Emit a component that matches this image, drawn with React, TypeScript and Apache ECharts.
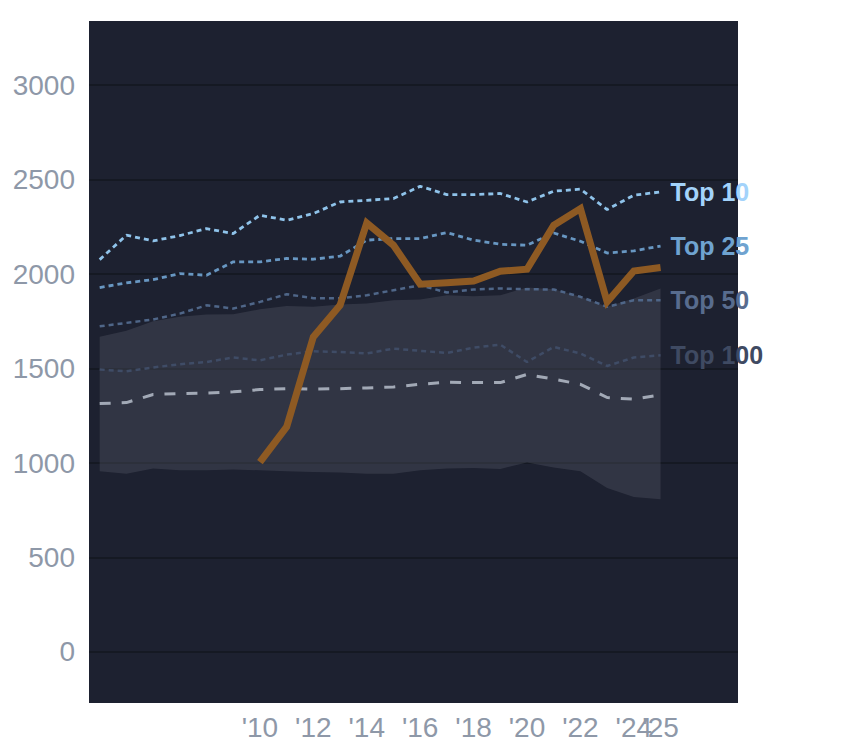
import React, { useEffect, useRef } from "react";
import * as echarts from "echarts";

const years = [2004, 2005, 2006, 2007, 2008, 2009, 2010, 2011, 2012, 2013, 2014, 2015, 2016, 2017, 2018, 2019, 2020, 2021, 2022, 2023, 2024, 2025];
const top10 = [2077, 2206, 2176, 2204, 2241, 2215, 2312, 2285, 2321, 2382, 2391, 2400, 2465, 2421, 2421, 2427, 2382, 2439, 2450, 2342, 2418, 2435];
const top25 = [1929, 1954, 1971, 2003, 1994, 2065, 2065, 2083, 2079, 2095, 2180, 2188, 2188, 2220, 2180, 2158, 2153, 2218, 2174, 2112, 2123, 2149];
const top50 = [1724, 1742, 1760, 1791, 1835, 1818, 1853, 1894, 1873, 1873, 1888, 1915, 1941, 1903, 1919, 1924, 1920, 1919, 1880, 1827, 1862, 1862];
const top100 = [1495, 1486, 1506, 1523, 1535, 1559, 1544, 1574, 1592, 1588, 1580, 1606, 1594, 1583, 1611, 1627, 1535, 1615, 1580, 1514, 1559, 1571];
const median = [1315, 1320, 1363, 1368, 1371, 1377, 1389, 1394, 1391, 1394, 1398, 1403, 1417, 1428, 1426, 1426, 1469, 1444, 1417, 1347, 1338, 1361];
const bandHigh = [1668, 1700, 1751, 1774, 1786, 1788, 1814, 1832, 1827, 1839, 1844, 1862, 1866, 1888, 1883, 1888, 1929, 1920, 1880, 1827, 1871, 1924];
const bandLow = [957, 944, 971, 962, 962, 966, 962, 957, 953, 950, 944, 944, 962, 971, 974, 969, 1003, 976, 957, 868, 821, 808];
const playerYears = [2010, 2011, 2012, 2013, 2014, 2015, 2016, 2017, 2018, 2019, 2020, 2021, 2022, 2023, 2024, 2025];
const playerValues = [1005, 1191, 1668, 1835, 2271, 2153, 1947, 1954, 1964, 2015, 2026, 2259, 2347, 1853, 2017, 2035];
const xLabelYears = [2010, 2012, 2014, 2016, 2018, 2020, 2022, 2024];
const xLastLabelYears = [2025];

const FONT = "'Liberation Sans', Arial, Helvetica, sans-serif";
const X_MIN = 2003.6;
const X_MAX = 2027.9;

const pairs = (xs: number[], ys: number[]) => xs.map((x, i) => [x, ys[i]]);

export default function App() {
  const ref = useRef<HTMLDivElement>(null);
  useEffect(() => {
    if (!ref.current) return;
    const chart = echarts.init(ref.current, null, { renderer: "svg" });
    const tierLine = (name: string, data: number[], color: string, labelColor: string, width: number, dash: number[]) => ({
      name,
      type: "line",
      data: pairs(years, data),
      symbol: "none",
      lineStyle: { color, width, type: dash },
      endLabel: {
        show: true,
        formatter: "{a}",
        color: labelColor,
        fontSize: 25,
        fontWeight: "bold",
        fontFamily: FONT,
        distance: 10,
      },
      z: 3,
    });
    const xLabel = (values: number[]) => ({
      customValues: values,
      formatter: (v: number) => "'" + String(v).slice(2),
      color: "#8e98a8",
      fontSize: 28,
      fontFamily: FONT,
      margin: 10,
      hideOverlap: false,
    });
    chart.setOption({
      animation: false,
      grid: {
        left: 89,
        top: 21,
        right: 106,
        bottom: 45,
        show: true,
        backgroundColor: "#1d2130",
        borderWidth: 0,
      },
      xAxis: [
        {
          type: "value",
          min: X_MIN,
          max: X_MAX,
          axisLine: { show: false },
          axisTick: { show: false },
          splitLine: { show: false },
          axisLabel: xLabel(xLabelYears),
        },
        {
          type: "value",
          position: "bottom",
          min: X_MIN,
          max: X_MAX,
          axisLine: { show: false },
          axisTick: { show: false },
          splitLine: { show: false },
          axisLabel: xLabel(xLastLabelYears),
        },
      ],
      yAxis: {
        type: "value",
        min: -270,
        max: 3340,
        splitNumber: 7,
        axisLine: { show: false },
        axisTick: { show: false },
        splitLine: { show: true, showMinLine: false, showMaxLine: false, lineStyle: { color: "#151923", width: 2 } },
        axisLabel: {
          showMinLabel: false,
          showMaxLabel: false,
          formatter: (v: number) => String(v),
          color: "#8e98a8",
          fontSize: 28,
          fontFamily: FONT,
          margin: 14,
        },
      },
      series: [
        {
          name: "band",
          type: "custom",
          data: [[years[0], bandLow[0]]],
          z: 1,
          renderItem: (params: any, api: any) => {
            const upper = years.map((y, i) => api.coord([y, bandHigh[i]]));
            const lower = years.map((y, i) => api.coord([y, bandLow[i]])).reverse();
            return {
              type: "polygon",
              shape: { points: upper.concat(lower) },
              style: { fill: "rgba(89,93,105,0.35)" },
            };
          },
        },
        tierLine("Top 10", top10, "#8fc3ea", "#a3d3fb", 2.8, [5, 4]),
        tierLine("Top 25", top25, "#6897c2", "#6fa3d0", 2.8, [5, 4]),
        tierLine("Top 50", top50, "#4f6688", "#586c8e", 2.5, [5, 4]),
        tierLine("Top 100", top100, "#3f4c66", "#3f4a62", 2.5, [5, 4]),
        {
          name: "Median",
          type: "line",
          data: pairs(years, median),
          symbol: "none",
          lineStyle: { color: "#a2a9b6", width: 3, type: [11, 11] },
          z: 3,
        },
        {
          name: "Player",
          type: "line",
          data: pairs(playerYears, playerValues),
          symbol: "none",
          lineStyle: { color: "#8e5a23", width: 7, cap: "butt", join: "miter" },
          z: 4,
        },
      ],
    });
    return () => chart.dispose();
  }, []);
  return <div ref={ref} style={{ position: "absolute", left: 0, top: 0, width: 844, height: 748 }} />;
}
